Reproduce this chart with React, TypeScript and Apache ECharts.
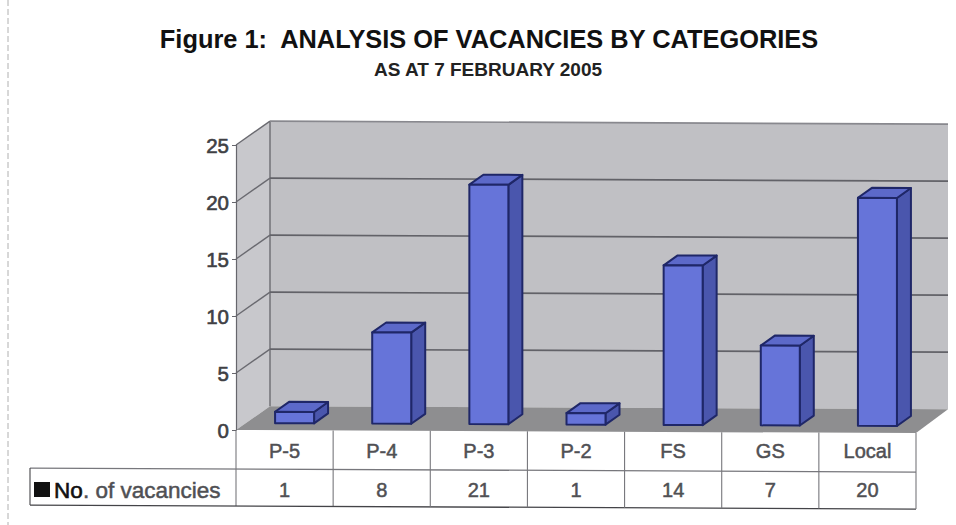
import React, { useEffect, useRef } from "react";
import * as echarts from "echarts";

const categories = ["P-5", "P-4", "P-3", "P-2", "FS", "GS", "Local"];
const vacancies = [1, 8, 21, 1, 14, 7, 20];
const valueTicks = [25, 20, 15, 10, 5, 0];
const titleText = "Figure 1:  ANALYSIS OF VACANCIES BY CATEGORIES";
const subtitleText = "AS AT 7 FEBRUARY 2005";
const seriesNameHead = "No";
const seriesNameTail = ". of vacancies";
const seriesName = seriesNameHead + seriesNameTail;

const FONT = "'Liberation Sans', Arial, sans-serif";
const SHEAR = 0.0045;
const DEPTH_X = 34;
const DEPTH_Y = 24;
const BAR_W = 39;
const BAR_DX = 10;
const BAR_DY = 7;
const BAR_DEPTH_X = 14;
const BAR_DEPTH_Y = 10;
const LEFT = 236;

const sh = (x: number, y: number) => [x, y + (x - LEFT) * SHEAR];
const poly = (pts: number[][], fill: string, stroke?: string, lw = 2) => ({
  type: "polygon",
  shape: { points: pts.map((p) => sh(p[0], p[1])) },
  style: { fill, stroke: stroke || "none", lineWidth: lw, lineJoin: "round" },
});
const seg = (a: number[], b: number[], stroke: string, lw = 1.2) => {
  const p = sh(a[0], a[1]);
  const q = sh(b[0], b[1]);
  return {
    type: "line",
    shape: { x1: p[0], y1: p[1], x2: q[0], y2: q[1] },
    style: { stroke, lineWidth: lw },
  };
};

const renderWall = (params: any, api: any) => {
  const g = params.coordSys;
  const v = api.value(1);
  const y = api.coord([0, v])[1];
  const children: any[] = [];
  if (params.dataIndex === 0) {
    const x0 = g.x;
    const x1 = g.x + g.width;
    const top = g.y;
    const bot = g.y + g.height;
    children.push(
      poly([[x0, top], [x0 + DEPTH_X, top - DEPTH_Y], [x0 + DEPTH_X, bot - DEPTH_Y], [x0, bot]], "#c8c8cc"),
      poly([[x0 + DEPTH_X, top - DEPTH_Y], [x1 + DEPTH_X - 2, top - DEPTH_Y], [x1 + DEPTH_X - 2, bot - DEPTH_Y], [x0 + DEPTH_X, bot - DEPTH_Y]], "#c0c0c4"),
      poly([[x0, bot], [x0 + DEPTH_X, bot - DEPTH_Y], [x1 + DEPTH_X - 2, bot - DEPTH_Y], [x1, bot]], "#8e8e90"),
      seg([x0 + DEPTH_X, top - DEPTH_Y], [x0 + DEPTH_X, bot - DEPTH_Y], "#77777c", 1.6),
    );
  }
  if (v !== 0) {
    children.push(seg([g.x, y], [g.x + DEPTH_X, y - DEPTH_Y], "#6a6a70", 1.4));
    children.push(seg([g.x + DEPTH_X, y - DEPTH_Y], [g.x + g.width + DEPTH_X - 2, y - DEPTH_Y], v === 25 ? "#88888e" : "#626268", 1.7));
  }
  return { type: "group", children };
};

const renderBar = (params: any, api: any) => {
  const i = api.value(0);
  const top = api.coord([i, api.value(1)]);
  const base = api.coord([i, 0]);
  const l = top[0] + BAR_DX - BAR_W / 2;
  const r = l + BAR_W;
  const t = top[1] - BAR_DY;
  const b = base[1] - BAR_DY;
  const dx = BAR_DEPTH_X;
  const dy = BAR_DEPTH_Y;
  const edge = "#1f2768";
  return {
    type: "group",
    children: [
      poly([[r, t], [r + dx, t - dy], [r + dx, b - dy], [r, b]], "#4a56ad", edge),
      poly([[l, t], [l + dx, t - dy], [r + dx, t - dy], [r, t]], "#5c69c9", edge),
      poly([[l, t], [r, t], [r, b], [l, b]], "#6674d9", edge),
    ],
  };
};

const renderTable = (params: any, api: any) => {
  const g = params.coordSys;
  const i = api.value(0);
  const left = g.x;
  const w = g.width / categories.length;
  const bot = g.y + g.height;
  const rowA = bot + 39;
  const rowB = bot + 76;
  const line = "#77777c";
  const children: any[] = [seg([left + (i + 1) * w, bot], [left + (i + 1) * w, rowB], line, 1.1)];
  if (i === 0) {
    children.push(
      seg([left, bot], [left, rowB], line, 1.1),
      seg([30, rowA], [g.x + g.width, rowA], line, 1.3),
      seg([30, rowB], [g.x + g.width, rowB], "#444448", 1.3),
      seg([30, rowA], [30, rowB], "#444448", 1.1),
      { type: "rect", shape: { x: 34, y: 482, width: 16, height: 15 }, style: { fill: "#111111" } },
    );
  }
  return { type: "group", children };
};

const labelStyle = {
  color: "#505054",
  fontSize: 20,
  margin: 11,
  fontFamily: FONT,
  interval: 0,
  textBorderColor: "#505054",
  textBorderWidth: 0.5,
};

export default function App() {
  const ref = useRef<HTMLDivElement>(null);
  useEffect(() => {
    const chart = echarts.init(ref.current!, undefined, { renderer: "svg" });
    chart.setOption({
      animation: false,
      backgroundColor: "#ffffff",
      textStyle: { fontFamily: FONT },
      title: [
        {
          text: titleText,
          left: 484,
          top: 21,
          textAlign: "center",
          textStyle: { fontFamily: FONT, fontSize: 25.4, fontWeight: "bold", color: "#111111" },
        },
        {
          text: subtitleText,
          left: 483,
          top: 55,
          textAlign: "center",
          textStyle: { fontFamily: FONT, fontSize: 19, fontWeight: "bold", color: "#222222" },
        },
      ],
      grid: { left: LEFT, right: 40, top: 145, bottom: 95, containLabel: false },
      xAxis: [
        {
          type: "category",
          data: categories,
          position: "bottom",
          z: 5,
          axisLine: { show: false },
          axisTick: { show: false },
          axisLabel: labelStyle,
        },
        {
          type: "category",
          data: vacancies.map(String),
          position: "bottom",
          offset: 39,
          z: 5,
          axisLine: { show: false },
          axisTick: { show: false },
          axisLabel: labelStyle,
        },
      ],
      yAxis: {
        type: "value",
        min: 0,
        max: 25,
        interval: 5,
        z: 5,
        axisLine: { show: true, lineStyle: { color: "#66666c", width: 1.2 } },
        axisTick: { show: true, length: 4, lineStyle: { color: "#66666c" } },
        splitLine: { show: false },
        axisLabel: {
          color: "#404044",
          fontSize: 20.5,
          margin: 7,
          fontFamily: FONT,
          textBorderColor: "#404044",
          textBorderWidth: 0.6,
        },
      },
      graphic: [
        {
          type: "text",
          x: 54,
          y: 479,
          style: {
            text: seriesNameHead,
            fill: "#111111",
            stroke: "#111111",
            lineWidth: 0.6,
            font: `22.5px ${FONT}`,
          },
        },
        {
          type: "text",
          x: 83,
          y: 479,
          style: {
            text: seriesNameTail,
            fill: "#505054",
            stroke: "#505054",
            lineWidth: 0.5,
            font: `22.5px ${FONT}`,
          },
        },
        {
          type: "line",
          shape: { x1: 8, y1: 0, x2: 8, y2: 525 },
          style: { stroke: "#b0b0b0", lineWidth: 1, lineDash: [6, 3] },
        },
      ],
      series: [
        {
          type: "custom",
          name: "wall",
          z: 1,
          silent: true,
          renderItem: renderWall,
          data: valueTicks.map((v) => [0, v]),
          encode: { x: 0, y: 1 },
        },
        {
          type: "custom",
          name: "table",
          z: 1,
          silent: true,
          renderItem: renderTable,
          data: categories.map((_, i) => [i, 0]),
          encode: { x: 0, y: 1 },
        },
        {
          type: "custom",
          name: seriesName,
          z: 3,
          renderItem: renderBar,
          data: vacancies.map((v, i) => [i, v]),
          encode: { x: 0, y: 1 },
        },
      ],
    });
    return () => chart.dispose();
  }, []);
  return <div ref={ref} style={{ position: "fixed", left: 0, top: 0, width: 956, height: 525 }} />;
}
